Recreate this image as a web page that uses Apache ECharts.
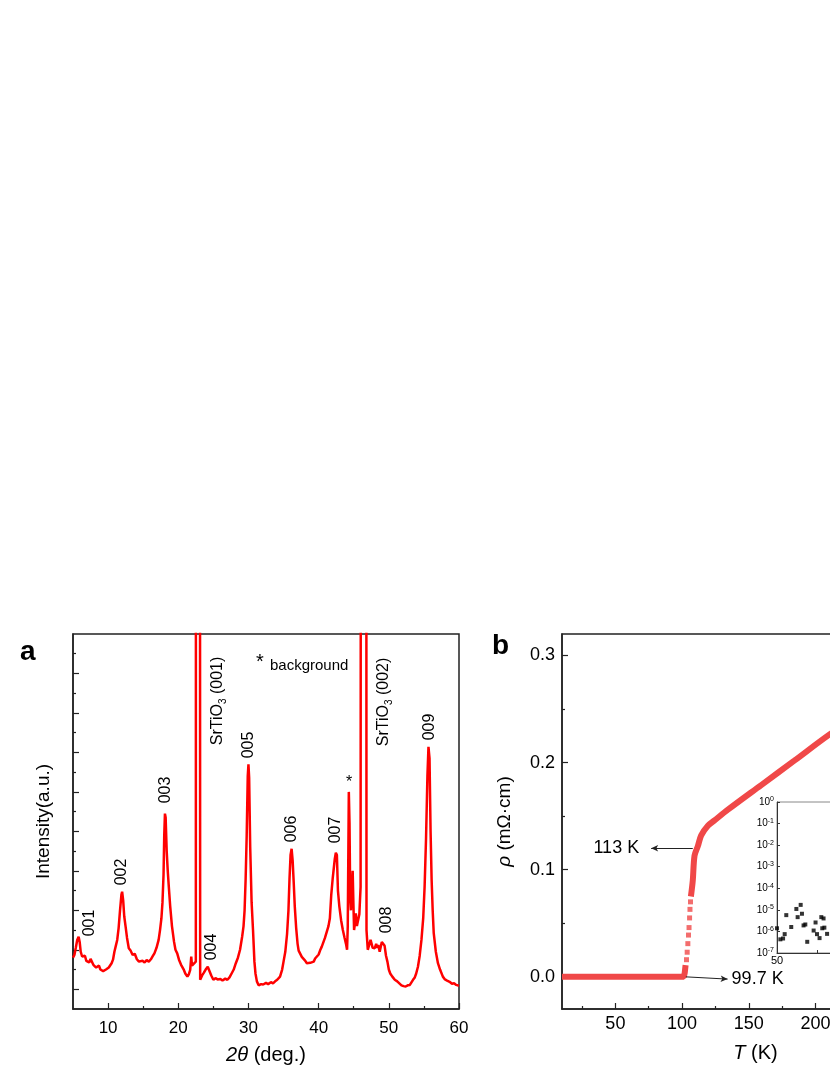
<!DOCTYPE html>
<html>
<head>
<meta charset="utf-8">
<script src="https://cdn.jsdelivr.net/npm/echarts@6/dist/echarts.min.js"></script>
<style>
  html, body { margin: 0; padding: 0; background: #fff; }
  #chart { width: 830px; height: 1075px; }
</style>
</head>
<body>
<div id="chart"></div>
<script>
// ---- panel a : XRD pattern (intensity in arbitrary units, SrTiO3 peaks run off scale)
const xrdAngle = [
  5.0, 5.2, 5.4, 5.6, 5.8, 5.95, 6.1, 6.3, 6.5, 6.7, 6.9, 7.1, 7.3, 7.5, 7.7, 7.9, 8.1, 8.3, 8.5, 8.7,
  8.9, 9.1, 9.3, 9.5, 9.7, 9.9, 10.1, 10.3, 10.5, 10.7, 10.9, 11.1, 11.3, 11.5, 11.7, 11.9, 12.0, 12.15, 12.3, 12.5,
  12.7, 12.95, 13.2, 13.5, 13.8, 14.1, 14.4, 14.6, 14.9, 15.2, 15.5, 15.8, 16.1, 16.4, 16.6, 16.9, 17.2, 17.4, 17.6, 17.75,
  17.9, 18.0, 18.1, 18.2, 18.35, 18.5, 18.65, 18.85, 19.1, 19.4, 19.6, 19.85, 20.1, 20.4, 20.8, 21.0, 21.3, 21.5, 21.7, 21.85,
  21.95, 22.2, 22.5, 22.58, 23.0, 23.12, 23.4, 23.65, 23.9, 24.2, 24.4, 24.7, 25.0, 25.3, 25.6, 26.0, 26.3, 26.7, 27.0, 27.3,
  27.6, 27.9, 28.2, 28.5, 28.8, 29.1, 29.3, 29.45, 29.6, 29.75, 29.9, 30.0, 30.1, 30.25, 30.45, 30.65, 30.85, 31.0, 31.2, 31.45,
  31.8, 32.1, 32.5, 32.8, 33.2, 33.5, 33.8, 34.1, 34.5, 34.8, 35.0, 35.25, 35.5, 35.7, 35.85, 36.0, 36.15, 36.3, 36.45, 36.6,
  36.8, 37.0, 37.15, 37.4, 37.6, 37.85, 38.1, 38.3, 38.55, 38.8, 39.0, 39.3, 39.5, 39.75, 40.0, 40.2, 40.45, 40.7, 40.9, 41.15,
  41.4, 41.6, 41.8, 42.0, 42.15, 42.3, 42.45, 42.6, 42.75, 42.95, 43.2, 43.45, 43.7, 43.9, 44.05, 44.15, 44.3, 44.4, 44.5, 44.6,
  44.75, 44.85, 44.95, 45.05, 45.2, 45.3, 45.45, 45.6, 45.8, 45.98, 46.12, 46.7, 46.82, 47.0, 47.2, 47.4, 47.55, 47.7, 47.9, 48.0,
  48.2, 48.35, 48.5, 48.7, 48.85, 49.0, 49.2, 49.4, 49.6, 49.8, 50.0, 50.2, 50.5, 50.85, 51.2, 51.5, 51.8, 52.1, 52.4, 52.7,
  53.0, 53.2, 53.45, 53.7, 53.9, 54.15, 54.4, 54.65, 54.9, 55.1, 55.3, 55.5, 55.65, 55.8, 55.95, 56.1, 56.25, 56.4, 56.7, 57.0,
  57.3, 57.7, 58.0, 58.3, 58.66, 59.0, 59.3, 59.6, 60.0
];
const xrdIntensity = [
  0.80, 0.87, 1.05, 1.25, 1.33, 1.20, 0.95, 0.83, 0.78, 0.85, 0.72, 0.74, 0.68, 0.77, 0.74, 0.62, 0.66, 0.55, 0.57, 0.60,
  0.50, 0.54, 0.46, 0.42, 0.50, 0.47, 0.55, 0.57, 0.66, 0.75, 0.95, 1.10, 1.25, 1.55, 2.00, 2.40, 2.47, 2.25, 1.85, 1.58,
  1.30, 1.04, 0.98, 0.87, 0.90, 0.76, 0.70, 0.66, 0.72, 0.68, 0.74, 0.70, 0.76, 0.85, 0.91, 1.05, 1.25, 1.50, 1.80, 2.20,
  2.90, 3.90, 4.45, 4.35, 3.50, 3.00, 2.60, 2.10, 1.60, 1.20, 1.00, 0.91, 0.75, 0.62, 0.49, 0.40, 0.32, 0.38, 0.49, 0.83,
  0.60, 0.55, 0.70, 60, 60, 0.24, 0.35, 0.42, 0.50, 0.57, 0.52, 0.35, 0.24, 0.28, 0.25, 0.26, 0.22, 0.27, 0.24, 0.30,
  0.40, 0.50, 0.66, 0.80, 1.00, 1.33, 1.60, 2.00, 2.80, 3.90, 5.40, 5.70, 5.35, 3.60, 2.20, 1.50, 0.70, 0.40, 0.20, 0.10,
  0.13, 0.12, 0.16, 0.13, 0.18, 0.15, 0.20, 0.24, 0.32, 0.50, 0.70, 0.95, 1.40, 2.00, 2.80, 3.40, 3.56, 3.25, 2.70, 2.10,
  1.55, 1.15, 0.98, 0.95, 0.82, 0.80, 0.72, 0.66, 0.63, 0.67, 0.72, 0.70, 0.78, 0.83, 0.88, 0.98, 1.08, 1.12, 1.30, 1.35,
  1.60, 1.80, 2.40, 2.80, 2.85, 3.30, 3.46, 3.40, 2.50, 2.10, 1.75, 1.50, 1.30, 1.15, 1.00, 1.60, 5.00, 4.20, 2.30, 2.00,
  2.60, 3.00, 2.20, 1.50, 1.70, 1.92, 1.60, 1.55, 1.90, 2.60, 60, 60, 1.50, 1.00, 0.95, 1.25, 1.25, 1.05, 1.10, 1.04,
  1.15, 1.05, 1.12, 0.95, 1.00, 1.20, 1.25, 1.10, 0.85, 0.70, 0.50, 0.40, 0.32, 0.24, 0.20, 0.15, 0.10, 0.08, 0.07, 0.10,
  0.11, 0.15, 0.24, 0.30, 0.40, 0.57, 0.85, 1.25, 1.80, 2.60, 3.80, 5.40, 6.14, 5.85, 4.00, 2.77, 2.00, 1.42, 0.95, 0.66,
  0.50, 0.32, 0.25, 0.22, 0.19, 0.14, 0.15, 0.11, 0.09
];

// ---- panel b : resistivity vs temperature (mOhm cm)
const zeroT = [10, 30, 50, 70, 90, 101.3, 102.0, 102.6];
const zeroRho = [0, 0, 0, 0, 0, 0, 0.004, 0.011];
const stepT = [103.3, 103.8, 104.3, 104.8, 105.2, 105.6, 105.9, 106.3];
const stepRho = [0.016, 0.023, 0.031, 0.039, 0.046, 0.055, 0.063, 0.070];
const normalT = [106.6, 108.0, 109.3, 111.8, 114.3, 119.3, 124.3, 134.3, 159.3, 184.3, 211.3, 240];
const normalRho = [0.075, 0.090, 0.113, 0.122, 0.132, 0.141, 0.146, 0.156, 0.179, 0.202, 0.227, 0.250];

// inset: log scale resistivity below Tc
const insetT = [50, 52.1, 53.8, 54.8, 55.8, 58.9, 62.1, 62.9, 64.8, 65.6, 66.6, 67.7, 68.9, 72.9, 74.1, 75, 76.6, 77.7, 78.3, 79.1, 79.6, 81.3];
const insetRho = [1.4e-6, 4.3e-7, 4.7e-7, 7.5e-7, 5.7e-6, 1.6e-6, 1.1e-5, 4.6e-6, 1.7e-5, 6.6e-6, 1.9e-6, 2.1e-6, 3.3e-7, 1.1e-6, 2.6e-6, 7.5e-7, 4.9e-7, 4.6e-6, 1.4e-6, 4.0e-6, 1.5e-6, 7.7e-7];

// tick values
const xTicksA = [10, 20, 30, 40, 50, 60];
const xMinorA = [15, 25, 35, 45, 55];
const yTicksA = [0, 1, 2, 3, 4, 5, 6, 7, 8];
const yMinorA = [0.5, 1.5, 2.5, 3.5, 4.5, 5.5, 6.5, 7.5, 8.5];
const xTicksB = [50, 100, 150, 200, 250, 300];
const xMinorB = [25, 75, 125, 175, 225, 275];
const yTicksB = [0, 0.1, 0.2, 0.3];
const yMinorB = [0.05, 0.15, 0.25];

const FONT = '"Liberation Sans", Arial, sans-serif';
const RED_A = '#ff0000';
const RED_B = '#f04848';
const AX = '#222';

function zip(xs, ys) {
  return xs.map((x, i) => [x, ys[i]]);
}

function majorAxis(gridIndex, min, max, ticks, labelOpt, extra) {
  return Object.assign({
    gridIndex: gridIndex,
    type: 'value',
    min: min,
    max: max,
    axisLine: { onZero: false, lineStyle: { color: AX, width: 1.5 } },
    axisTick: { inside: true, length: 6, customValues: ticks, lineStyle: { color: AX, width: 1.2 } },
    axisLabel: labelOpt,
    splitLine: { show: false }
  }, extra || {});
}

function minorAxis(gridIndex, min, max, ticks, position) {
  return {
    gridIndex: gridIndex,
    type: 'value',
    min: min,
    max: max,
    position: position,
    axisLine: { show: false, onZero: false },
    axisTick: { inside: true, length: 3, customValues: ticks, lineStyle: { color: AX, width: 1.2 } },
    axisLabel: { show: false },
    splitLine: { show: false }
  };
}

function vtext(x, y, text, size) {
  return {
    type: 'text', x: x, y: y, rotation: Math.PI / 2, silent: true,
    style: {
      text: text, fontFamily: FONT, fontSize: size || 16, fill: '#000',
      align: 'center', verticalAlign: 'middle',
      rich: {
        m: { fontSize: 16, lineHeight: 20, fontFamily: FONT },
        s: { fontSize: 10, fontFamily: FONT, verticalAlign: 'bottom', padding: [8, 0, 0, 0] }
      }
    }
  };
}

function htext(x, y, text, size, weight) {
  return {
    type: 'text', x: x, y: y, silent: true,
    style: {
      text: text, fontFamily: FONT, fontSize: size, fontWeight: weight || 'normal',
      fill: '#000', align: 'left', verticalAlign: 'middle'
    }
  };
}

const chart = echarts.init(document.getElementById('chart'), null, { renderer: 'canvas' });

const option = {
  animation: false,
  backgroundColor: '#fff',
  textStyle: { fontFamily: FONT },
  grid: [
    { left: 73, top: 634, width: 386, height: 375, show: true, borderColor: AX, borderWidth: 1.5, outerBoundsMode: 'none' },
    { left: 562, top: 634, width: 387, height: 375, show: true, borderColor: AX, borderWidth: 1.5, outerBoundsMode: 'none' },
    { left: 777, top: 802, width: 160, height: 151, show: true, borderColor: '#888', borderWidth: 1, backgroundColor: '#fff', outerBoundsMode: 'none' }
  ],
  xAxis: [
    majorAxis(0, 5, 60, xTicksA, { customValues: xTicksA, fontSize: 17, color: '#000', margin: 11 }, {
      position: 'bottom',
      name: '{i|2θ} (deg.)', nameLocation: 'middle', nameGap: 36,
      nameTextStyle: { fontSize: 20, color: '#000', rich: { i: { fontSize: 20, fontStyle: 'italic', fontFamily: FONT } } }
    }),
    minorAxis(0, 5, 60, xMinorA, 'bottom'),
    majorAxis(1, 10, 300, xTicksB, { customValues: xTicksB, fontSize: 18, color: '#000', margin: 6 }, {
      position: 'bottom',
      name: '{i|T} (K)', nameLocation: 'middle', nameGap: 34,
      nameTextStyle: { fontSize: 20, color: '#000', rich: { i: { fontSize: 20, fontStyle: 'italic', fontFamily: FONT } } }
    }),
    minorAxis(1, 10, 300, xMinorB, 'bottom'),
    {
      gridIndex: 2, type: 'value', min: 50, max: 150, position: 'bottom',
      axisLine: { onZero: false, lineStyle: { color: '#333', width: 1 } },
      axisTick: { inside: true, length: 3, customValues: [50, 75, 100, 125, 150], lineStyle: { color: '#333' } },
      axisLabel: { customValues: [50, 100, 150], fontSize: 11, color: '#000', margin: 2 },
      splitLine: { show: false }
    }
  ],
  yAxis: [
    majorAxis(0, -0.5, 9, yTicksA, { show: false }, {
      position: 'left',
      name: 'Intensity(a.u.)', nameLocation: 'middle', nameGap: 20, nameRotate: 90,
      nameTextStyle: { fontSize: 19, color: '#000' }
    }),
    minorAxis(0, -0.5, 9, yMinorA, 'left'),
    majorAxis(1, -0.03, 0.32, yTicksB, {
      customValues: yTicksB, fontSize: 18, color: '#000', margin: 7,
      formatter: v => v.toFixed(1)
    }, {
      position: 'left',
      name: '{i|ρ} (mΩ·cm)', nameLocation: 'middle', nameGap: 48, nameRotate: 90,
      nameTextStyle: { fontSize: 19, color: '#000', rich: { i: { fontSize: 19, fontStyle: 'italic', fontFamily: FONT } } }
    }),
    minorAxis(1, -0.03, 0.32, yMinorB, 'left'),
    {
      gridIndex: 2, type: 'log', logBase: 10, min: 1e-7, max: 1, interval: 1, position: 'left',
      axisLine: { onZero: false, lineStyle: { color: '#333', width: 1 } },
      axisTick: { inside: true, length: 3, lineStyle: { color: '#333' } },
      axisLabel: {
        fontSize: 10, color: '#000', margin: 3, lineHeight: 12,
        formatter: v => '10{s|' + Math.round(Math.log10(v)) + '}',
        rich: { s: { fontSize: 7, verticalAlign: 'top', padding: [0, 0, 6, 0], fontFamily: FONT } }
      },
      splitLine: { show: false }
    }
  ],
  series: [
    {
      name: 'XRD', type: 'line', xAxisIndex: 0, yAxisIndex: 0,
      data: zip(xrdAngle, xrdIntensity), showSymbol: false, clip: true,
      lineStyle: { color: RED_A, width: 2.5 }, itemStyle: { color: RED_A }
    },
    {
      name: 'zero', type: 'line', xAxisIndex: 2, yAxisIndex: 2,
      data: zip(zeroT, zeroRho), showSymbol: false, clip: true,
      lineStyle: { color: RED_B, width: 6 }, itemStyle: { color: RED_B }
    },
    {
      name: 'step', type: 'scatter', xAxisIndex: 2, yAxisIndex: 2,
      data: zip(stepT, stepRho), symbol: 'rect', symbolSize: [5, 5],
      itemStyle: { color: RED_B }
    },
    {
      name: 'normal', type: 'line', xAxisIndex: 2, yAxisIndex: 2,
      data: zip(normalT, normalRho), showSymbol: false, clip: true, smooth: 0.3,
      lineStyle: { color: RED_B, width: 6 }, itemStyle: { color: RED_B },
      markLine: {
        silent: true, animation: false,
        symbol: ['none', 'arrow'], symbolSize: [5, 7],
        lineStyle: { color: '#222', width: 1, type: 'solid' },
        label: { show: true, position: 'end', formatter: '{b}', fontSize: 18, color: '#000', fontFamily: FONT },
        emphasis: { disabled: true },
        data: [
          [{ name: '113 K', coord: [108, 0.12], label: { distance: 12 } }, { coord: [76.8, 0.12] }],
          [{ name: '99.7 K', coord: [102.8, 0.0], label: { distance: 4 } }, { coord: [134.1, -0.0021] }]
        ]
      }
    },
    {
      name: 'inset', type: 'scatter', xAxisIndex: 4, yAxisIndex: 4,
      data: zip(insetT, insetRho), symbol: 'rect', symbolSize: 4,
      itemStyle: { color: '#000' }, z: 10
    }
  ],
  graphic: [
    htext(20, 652, 'a', 28, 'bold'),
    htext(492, 646, 'b', 28, 'bold'),
    vtext(90, 923, '001'),
    vtext(122, 872, '002'),
    vtext(166, 790, '003'),
    vtext(212, 947, '004'),
    vtext(249, 745, '005'),
    vtext(292, 829, '006'),
    vtext(336, 830, '007'),
    vtext(387, 920, '008'),
    vtext(430, 727, '009'),
    vtext(218, 701, '{m|SrTiO}{s|3}{m| (001)}'),
    vtext(384, 702, '{m|SrTiO}{s|3}{m| (002)}'),
    htext(346, 783, '*', 16),
    htext(256, 662, '*', 20),
    htext(270, 666, 'background', 15)
  ]
};

chart.setOption(option);
</script>
</body>
</html>
